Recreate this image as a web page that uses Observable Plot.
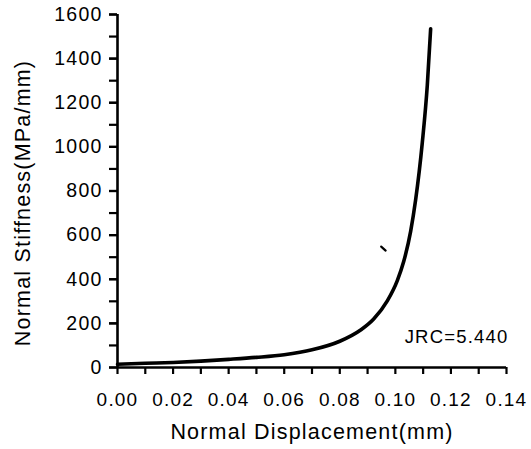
<!DOCTYPE html>
<html>
<head>
<meta charset="utf-8">
<script src="https://cdn.jsdelivr.net/npm/d3@7"></script>
<script src="https://cdn.jsdelivr.net/npm/@observablehq/plot@0.6"></script>
<style>
  html, body { margin: 0; padding: 0; background: white; }
  svg text { letter-spacing: 1.2px; }
</style>
</head>
<body>
<div id="chart"></div>
<script>
// Curve values
const displacement = [0.000, 0.010, 0.020, 0.030, 0.040, 0.050, 0.060, 0.070, 0.080, 0.0875, 0.0922, 0.0971, 0.1007, 0.1030, 0.1055, 0.1073, 0.1097, 0.1115, 0.1127];
const stiffness    = [15, 19, 23, 29, 37, 46, 58, 80, 119, 170, 220, 302, 394, 480, 617, 760, 1020, 1280, 1535];

// small stray mark seen on the scan
const strayX = [0.0949, 0.0965];
const strayY = [548, 530];

const xTickLabels = [0, 0.02, 0.04, 0.06, 0.08, 0.10, 0.12, 0.14];
const xMinorTicks = [0, 0.01, 0.02, 0.03, 0.04, 0.05, 0.06, 0.07, 0.08, 0.09, 0.10, 0.11, 0.12, 0.13, 0.14];
const yTickLabels = [0, 200, 400, 600, 800, 1000, 1200, 1400, 1600];
const yMinorTicks = [0, 100, 200, 300, 400, 500, 600, 700, 800, 900, 1000, 1100, 1200, 1300, 1400, 1500, 1600];

const xLabel = "Normal Displacement(mm)";
const yLabel = "Normal Stiffness(MPa/mm)";
const annotation = "JRC=5.440";

const curve = displacement.map((x, i) => ({x, y: stiffness[i]}));
const stray = strayX.map((x, i) => ({x, y: strayY[i]}));

const chart = Plot.plot({
  width: 531,
  height: 449,
  marginLeft: 117,
  marginRight: 25,
  marginTop: 14,
  marginBottom: 82,
  style: {fontFamily: "'Liberation Sans', Arial, sans-serif", color: "black", background: "white", overflow: "visible"},
  x: {domain: [0, 0.14]},
  y: {domain: [0, 1600]},
  marks: [
    Plot.axisX(xMinorTicks, {tickSize: 7, strokeWidth: 2.2, text: null, label: null}),
    Plot.axisX(xTickLabels, {tickSize: 0, tickPadding: 25, fontSize: 19, tickFormat: d => d.toFixed(2), label: null}),
    Plot.axisY(yMinorTicks, {tickSize: 8, strokeWidth: 2.2, text: null, label: null}),
    Plot.axisY(yTickLabels, {tickSize: 8, strokeWidth: 2.2, tickPadding: 7, fontSize: 19.5, tickFormat: d => String(d), label: null}),
    Plot.ruleX([0], {strokeWidth: 2.6}),
    Plot.ruleY([0], {strokeWidth: 2.6}),
    Plot.line(curve, {x: "x", y: "y", curve: "monotone-x", stroke: "black", strokeWidth: 3.6, strokeLinecap: "round"}),
    Plot.line(stray, {x: "x", y: "y", stroke: "black", strokeWidth: 2.2, strokeLinecap: "round"}),
    Plot.text([annotation], {x: 0.14, y: 109, text: d => d, textAnchor: "end", lineAnchor: "bottom", fontSize: 18.5, dx: 2}),
    Plot.text([xLabel], {frameAnchor: "bottom", text: d => d, dy: 65, lineAnchor: "middle", fontSize: 21.5}),
    Plot.text([yLabel], {frameAnchor: "left", text: d => d, dx: -94, dy: 12, rotate: -90, textAnchor: "middle", lineAnchor: "middle", fontSize: 21.5})
  ]
});
document.getElementById("chart").appendChild(chart);
</script>
</body>
</html>
